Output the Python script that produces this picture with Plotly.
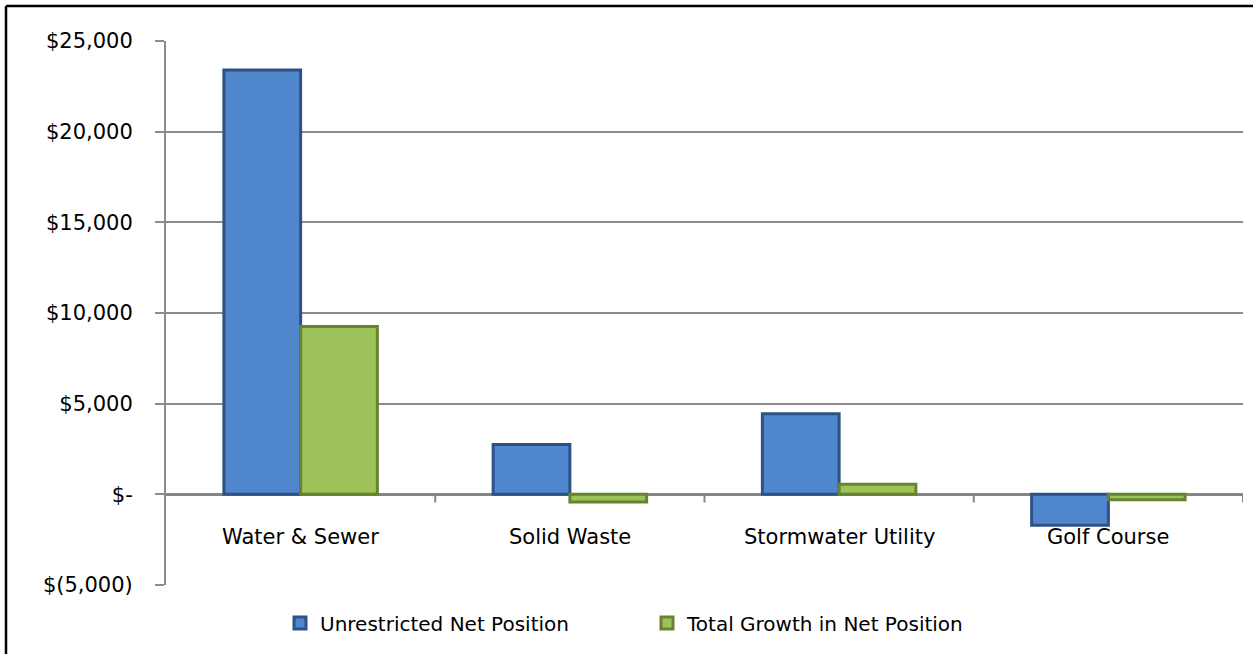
import plotly.graph_objects as go

categories = ["Water & Sewer", "Solid Waste", "Stormwater Utility", "Golf Course"]
unrestricted = [23400, 2750, 4450, -1700]
growth = [9250, -420, 560, -300]
tick_vals = [-5000, 0, 5000, 10000, 15000, 20000, 25000]
tick_text = ["$(5,000)", "$-", "$5,000", "$10,000", "$15,000", "$20,000", "$25,000"]

FONT = "DejaVu Sans"
W, H = 1253, 654
ML, MR, MT, MB = 166, 10, 41, 69
PW, PH = W - ML - MR, H - MT - MB


def px_x(p):
    return (p - ML) / PW


def px_y(p):
    return (H - MB - p) / PH


fig = go.Figure()
fig.add_trace(go.Bar(
    x=categories, y=unrestricted, name="Unrestricted Net Position",
    marker=dict(color="#4F86CC", line=dict(color="#2E5283", width=3)),
))
fig.add_trace(go.Bar(
    x=categories, y=growth, name="Total Growth in Net Position",
    marker=dict(color="#9DC25A", line=dict(color="#66832F", width=3)),
))

shapes = []
# category divider ticks on the zero line
for i in range(len(categories)):
    shapes.append(dict(type="line", xref="x", yref="y", x0=i + 0.5, x1=i + 0.5,
                       y0=0, y1=-450, line=dict(color="#868686", width=2)))
# outer chart frame (top and left edges visible)
shapes.append(dict(type="line", xref="paper", yref="paper",
                   x0=px_x(6), x1=px_x(1253), y0=px_y(6), y1=px_y(6),
                   line=dict(color="black", width=2.5)))
shapes.append(dict(type="line", xref="paper", yref="paper",
                   x0=px_x(6), x1=px_x(6), y0=px_y(6), y1=px_y(654),
                   line=dict(color="black", width=2.5)))

annotations = [dict(x=c, y=-2380, xref="x", yref="y", text=c, showarrow=False,
                    font=dict(family=FONT, size=21, color="black")) for c in categories]

fig.update_layout(
    width=W, height=H,
    margin=dict(l=ML, r=MR, t=MT, b=MB),
    paper_bgcolor="white", plot_bgcolor="white",
    barmode="group", bargap=0.43, bargroupgap=0,
    font=dict(family=FONT, size=20, color="black"),
    showlegend=True,
    legend=dict(orientation="h", x=px_x(280), xanchor="left", y=px_y(623), yanchor="middle",
                font=dict(family=FONT, size=20, color="black"), itemwidth=30,
                traceorder="normal", entrywidthmode="pixels", entrywidth=322),
    shapes=shapes, annotations=annotations,
    xaxis=dict(showticklabels=False, showgrid=False, ticks="", showline=False,
               zeroline=False, range=[-0.5, 3.5]),
    yaxis=dict(range=[-5000, 25000], tickvals=tick_vals, ticktext=tick_text,
               showgrid=True, gridcolor="#8C8C8C", gridwidth=2,
               zeroline=True, zerolinecolor="#868686", zerolinewidth=3,
               showline=True, linecolor="#8C8C8C", linewidth=2,
               ticks="outside", ticklen=9, tickcolor="#8C8C8C", tickwidth=2,
               ticklabelstandoff=18,
               tickfont=dict(family=FONT, size=21, color="black")),
)

fig.write_html("out.html")
